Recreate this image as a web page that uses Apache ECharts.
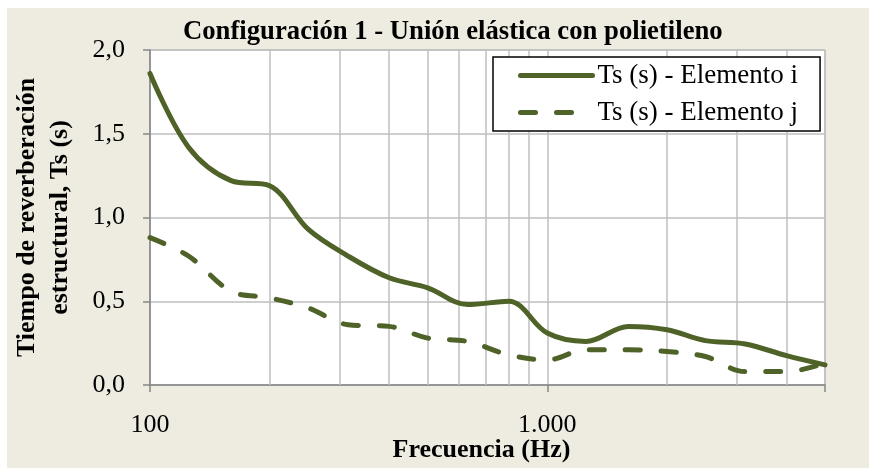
<!DOCTYPE html>
<html>
<head>
<meta charset="utf-8">
<script src="https://cdn.jsdelivr.net/npm/echarts@6/dist/echarts.min.js"></script>
<style>
  html, body { margin: 0; padding: 0; background: #ffffff; }
  #chart {
    position: absolute;
    left: 7px;
    top: 8px;
    width: 862px;
    height: 460px;
    background: #EEECE1;
  }
</style>
</head>
<body>
<div id="chart"></div>
<script>
// frecuencias de tercio de octava (Hz)
const freqs = [100, 125, 160, 200, 250, 315, 400, 500, 630, 800, 1000, 1250, 1600, 2000, 2500, 3150, 4000, 5000]
const tsElementoI = [1.86, 1.42, 1.22, 1.19, 0.93, 0.77, 0.64, 0.58, 0.48, 0.50, 0.31, 0.26, 0.35, 0.33, 0.265, 0.245, 0.175, 0.12]
const tsElementoJ = [0.88, 0.77, 0.56, 0.52, 0.46, 0.36, 0.35, 0.28, 0.26, 0.18, 0.15, 0.21, 0.21, 0.20, 0.17, 0.08, 0.08, 0.13]
const minorGridFreqs = [200, 300, 400, 500, 600, 700, 800, 900, 2000, 3000, 4000]
const xLabels = { 100: '100', 1000: '1.000' }

const olive = '#4F6228'
const serif = '"Liberation Serif", "Times New Roman", serif'

function pairs(values) {
  return freqs.map((f, i) => [f, values[i]])
}

const chart = echarts.init(document.getElementById('chart'))

const option = {
  backgroundColor: '#EEECE1',
  animation: false,
  textStyle: { fontFamily: serif },
  title: {
    text: 'Configuración 1 - Unión elástica con polietileno',
    left: 176,
    top: 11,
    padding: 0,
    textStyle: { fontFamily: serif, fontSize: 26.7, fontWeight: 'bold', color: '#000' }
  },
  grid: {
    left: 143,
    top: 42,
    right: 44,
    bottom: 83,
    outerBoundsMode: 'none',
    containLabel: false,
    show: true,
    backgroundColor: '#ffffff',
    borderColor: '#A6A6A6',
    borderWidth: 1
  },
  legend: {
    left: 486,
    top: 49,
    orient: 'vertical',
    backgroundColor: '#ffffff',
    borderColor: '#000000',
    borderWidth: 1.5,
    borderRadius: 0,
    padding: [5, 22, 5, 25],
    itemWidth: 72,
    itemHeight: 14,
    itemGap: 10,
    itemStyle: { opacity: 0 },
    lineStyle: { width: 5, cap: 'round' },
    textStyle: { fontFamily: serif, fontSize: 27, color: '#000', lineHeight: 26 }
  },
  xAxis: {
    type: 'log',
    logBase: 10,
    min: 100,
    max: 5000,
    name: 'Frecuencia (Hz)',
    nameLocation: 'middle',
    nameGap: 52,
    nameMoveOverlap: false,
    nameTextStyle: { fontFamily: serif, fontSize: 26, fontWeight: 'bold', color: '#000', padding: [0, 12, 0, 0] },
    axisLine: { lineStyle: { color: '#868686', width: 1.5 } },
    axisTick: { show: true, length: 7, lineStyle: { color: '#868686', width: 1.5 } },
    axisLabel: {
      margin: 27,
      fontFamily: serif,
      fontSize: 26,
      color: '#000',
      formatter: v => xLabels[Math.round(v)] || ''
    },
    splitLine: { show: true, lineStyle: { color: '#BFBFBF', width: 1.5 } },
    minorTick: { show: false },
    minorSplitLine: { show: false }
  },
  yAxis: {
    type: 'value',
    min: 0,
    max: 2,
    interval: 0.5,
    name: 'Tiempo de reverberación\nestructural, Ts (s)',
    nameLocation: 'middle',
    nameGap: 73,
    nameMoveOverlap: false,
    nameTextStyle: { fontFamily: serif, fontSize: 26, fontWeight: 'bold', color: '#000', lineHeight: 33 },
    axisLine: { show: true, lineStyle: { color: '#868686', width: 1.5 } },
    axisTick: { show: true, length: 7, lineStyle: { color: '#868686', width: 1.5 } },
    axisLabel: {
      margin: 25,
      fontFamily: serif,
      fontSize: 26,
      color: '#000',
      formatter: v => v.toFixed(1).replace('.', ',')
    },
    splitLine: { show: true, lineStyle: { color: '#BFBFBF', width: 1.5 } }
  },
  series: [
    {
      name: 'Ts (s) - Elemento i',
      type: 'line',
      data: pairs(tsElementoI),
      smooth: 0.35,
      showSymbol: false,
      symbol: 'none',
      color: olive,
      lineStyle: { color: olive, width: 5, cap: 'round' },
      markLine: {
        silent: true,
        symbol: 'none',
        z: 1,
        label: { show: false },
        lineStyle: { color: '#BFBFBF', width: 1.5, type: 'solid' },
        data: minorGridFreqs.map(f => ({ xAxis: f }))
      }
    },
    {
      name: 'Ts (s) - Elemento j',
      type: 'line',
      data: pairs(tsElementoJ),
      smooth: 0.35,
      showSymbol: false,
      symbol: 'none',
      color: olive,
      lineStyle: { color: olive, width: 5, type: [15, 21], cap: 'round' }
    }
  ]
}

chart.setOption(option)
</script>
</body>
</html>
